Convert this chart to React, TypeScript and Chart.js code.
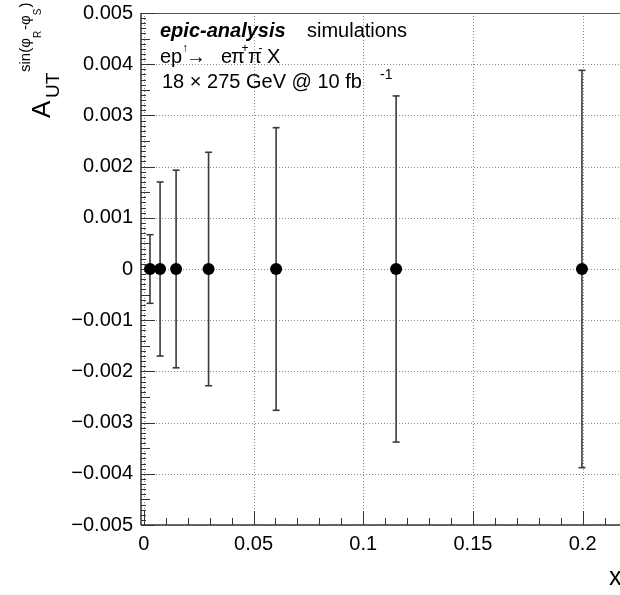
import React, { useEffect, useRef } from "react";
import { Chart, registerables } from "chart.js";

Chart.register(...registerables);

// ---- data ----
const xValues = [0.0028, 0.0074, 0.0147, 0.0295, 0.0603, 0.115, 0.1997];
const yValues = [0, 0, 0, 0, 0, 0, 0];
const yErrors = [0.00067, 0.0017, 0.00193, 0.00228, 0.00276, 0.00338, 0.00388];

const xTicks = [0, 0.05, 0.1, 0.15, 0.2];
const xTickLabels = ["0", "0.05", "0.1", "0.15", "0.2"];
const yTicks = [-0.005, -0.004, -0.003, -0.002, -0.001, 0, 0.001, 0.002, 0.003, 0.004, 0.005];
const yTickLabels = [
  "\u22120.005", "\u22120.004", "\u22120.003", "\u22120.002", "\u22120.001",
  "0", "0.001", "0.002", "0.003", "0.004", "0.005",
];

const X_MIN = -0.0013;
const X_MAX = 0.2175;
const Y_MIN = -0.005;
const Y_MAX = 0.005;

const FONT = "'Liberation Sans', Arial, Helvetica, sans-serif";

function line(ctx: CanvasRenderingContext2D, x1: number, y1: number, x2: number, y2: number) {
  ctx.beginPath();
  ctx.moveTo(x1, y1);
  ctx.lineTo(x2, y2);
  ctx.stroke();
}

const rootPlugin = {
  id: "rootStyle",
  beforeDatasetsDraw(chart: any) {
    const { ctx, chartArea: a } = chart;
    const x = chart.scales.x;
    const y = chart.scales.y;
    ctx.save();
    // dotted grid
    ctx.strokeStyle = "#8c8c8c";
    ctx.lineWidth = 1;
    ctx.setLineDash([1, 2]);
    xTicks.forEach((v) => {
      const px = Math.round(x.getPixelForValue(v)) + 0.5;
      line(ctx, px, a.top, px, a.bottom);
    });
    yTicks.forEach((v) => {
      const py = Math.round(y.getPixelForValue(v)) + 0.5;
      line(ctx, a.left, py, a.right, py);
    });
    ctx.setLineDash([]);

    // frame
    ctx.strokeStyle = "#333";
    ctx.lineWidth = 1.5;
    line(ctx, a.left, a.top, a.left, a.bottom);
    line(ctx, a.left, a.bottom, a.right, a.bottom);
    ctx.lineWidth = 1;
    ctx.strokeStyle = "#555";
    line(ctx, a.left, a.top + 0.5, a.right, a.top + 0.5);

    // ticks
    ctx.strokeStyle = "#333";
    ctx.lineWidth = 1;
    const xStep = xTicks[1] - xTicks[0];
    xTicks.forEach((v) => {
      const px = Math.round(x.getPixelForValue(v)) + 0.5;
      line(ctx, px, a.bottom, px, a.bottom - 14);
      for (let k = 1; k < 5; k++) {
        const vv = v + (k * xStep) / 5;
        if (vv > X_MAX) break;
        const p = Math.round(x.getPixelForValue(vv)) + 0.5;
        line(ctx, p, a.bottom, p, a.bottom - 7);
      }
    });
    const yStep = yTicks[1] - yTicks[0];
    yTicks.forEach((v, i) => {
      const py = Math.round(y.getPixelForValue(v)) + 0.5;
      line(ctx, a.left, py, a.left + 14, py);
      if (i < yTicks.length - 1) {
        for (let k = 1; k < 10; k++) {
          const p = Math.round(y.getPixelForValue(v + (k * yStep) / 10)) + 0.5;
          line(ctx, a.left, p, a.left + (k === 5 ? 9 : 5), p);
        }
      }
    });

    // error bars
    ctx.strokeStyle = "#3a3a3a";
    ctx.lineWidth = 1.6;
    xValues.forEach((xv, i) => {
      const px = x.getPixelForValue(xv);
      const top = y.getPixelForValue(yValues[i] + yErrors[i]);
      const bot = y.getPixelForValue(yValues[i] - yErrors[i]);
      line(ctx, px, top, px, bot);
      line(ctx, px - 3.5, top, px + 3.5, top);
      line(ctx, px - 3.5, bot, px + 3.5, bot);
    });
    ctx.restore();
  },
  afterDraw(chart: any) {
    const { ctx } = chart;
    ctx.save();
    ctx.fillStyle = "#000";
    ctx.textBaseline = "alphabetic";
    ctx.textAlign = "left";

    // legend text
    ctx.font = `italic bold 20px ${FONT}`;
    ctx.fillText("epic-analysis", 160, 37);
    ctx.font = `20px ${FONT}`;
    ctx.fillText("simulations", 307, 37);

    const b2 = 63;
    ctx.font = `20px ${FONT}`;
    ctx.fillText("ep", 160, b2);
    ctx.font = `12px ${FONT}`;
    ctx.fillText("\u2191", 182, b2 - 11);
    ctx.font = `20px ${FONT}`;
    ctx.fillText("\u2192", 186, b2);
    ctx.fillText("e", 221, b2);
    ctx.fillText("\u03c0", 231, b2);
    ctx.font = `12px ${FONT}`;
    ctx.fillText("+", 241.5, b2 - 11);
    ctx.font = `20px ${FONT}`;
    ctx.fillText("\u03c0", 248, b2);
    ctx.font = `12px ${FONT}`;
    ctx.fillText("-", 258.5, b2 - 11);
    ctx.font = `20px ${FONT}`;
    ctx.fillText("X", 267, b2);

    const b3 = 88;
    ctx.font = `20px ${FONT}`;
    ctx.fillText("18 \u00d7 275 GeV @ 10 fb", 162, b3);
    ctx.font = `14px ${FONT}`;
    ctx.fillText("-1", 380, b3 - 9);

    // x title
    ctx.font = `25px ${FONT}`;
    ctx.fillText("x", 609, 585);

    // y title (rotated)
    ctx.translate(50, 118);
    ctx.rotate(-Math.PI / 2);
    ctx.font = `26px ${FONT}`;
    ctx.fillText("A", 0, 0);
    ctx.font = `19px ${FONT}`;
    ctx.fillText("UT", 20, 9);
    let cx = 46;
    const sb = -20;
    const parts: [string, number, number][] = [
      ["sin(\u03c6", 15, sb],
      ["R", 10, sb + 11],
      ["-\u03c6", 15, sb],
      ["S", 10, sb + 11],
      [")", 15, sb],
    ];
    parts.forEach(([t, size, dy]) => {
      ctx.font = `${size}px ${FONT}`;
      ctx.fillText(t, cx, dy);
      cx += ctx.measureText(t).width + (size < 15 ? 1 : 0);
    });
    ctx.restore();
  },
};

export default function App() {
  const ref = useRef<HTMLCanvasElement | null>(null);
  useEffect(() => {
    if (!ref.current) return;
    const chart = new Chart(ref.current, {
      type: "scatter",
      data: {
        datasets: [
          {
            data: xValues.map((xv, i) => ({ x: xv, y: yValues[i] })),
            pointRadius: 6,
            pointHoverRadius: 6,
            pointBackgroundColor: "#000",
            pointBorderColor: "#000",
            pointBorderWidth: 0,
            showLine: false,
          },
        ],
      },
      options: {
        animation: false,
        responsive: false,
        maintainAspectRatio: false,
        events: [],
        layout: { padding: { top: 13, right: 0, left: 0, bottom: 0 } },
        plugins: {
          legend: { display: false },
          tooltip: { enabled: false },
          title: { display: false },
        },
        scales: {
          x: {
            type: "linear",
            min: X_MIN,
            max: X_MAX,
            grid: { display: false, drawTicks: false },
            border: { display: false },
            afterBuildTicks: (s: any) => {
              s.ticks = xTicks.map((v) => ({ value: v }));
            },
            afterFit: (s: any) => {
              s.height = 70;
              s.paddingLeft = 0;
              s.paddingRight = 0;
            },
            ticks: {
              autoSkip: false,
              maxRotation: 0,
              padding: 7,
              color: "#000",
              font: { family: FONT, size: 20 },
              callback: (_v: any, i: number) => xTickLabels[i],
            },
          },
          y: {
            type: "linear",
            min: Y_MIN,
            max: Y_MAX,
            grid: { display: false, drawTicks: false },
            border: { display: false },
            afterBuildTicks: (s: any) => {
              s.ticks = yTicks.map((v) => ({ value: v }));
            },
            afterFit: (s: any) => {
              s.width = 141;
              s.paddingTop = 0;
              s.paddingBottom = 0;
            },
            ticks: {
              autoSkip: false,
              padding: 8,
              color: "#000",
              font: { family: FONT, size: 20 },
              callback: (_v: any, i: number) => yTickLabels[i],
            },
          },
        },
      },
      plugins: [rootPlugin],
    });
    return () => chart.destroy();
  }, []);

  return (
    <div style={{ position: "fixed", left: 0, top: 0, width: 620, height: 595, background: "#fff", overflow: "hidden" }}>
      <canvas ref={ref} width={627} height={595} style={{ display: "block" }} />
    </div>
  );
}
